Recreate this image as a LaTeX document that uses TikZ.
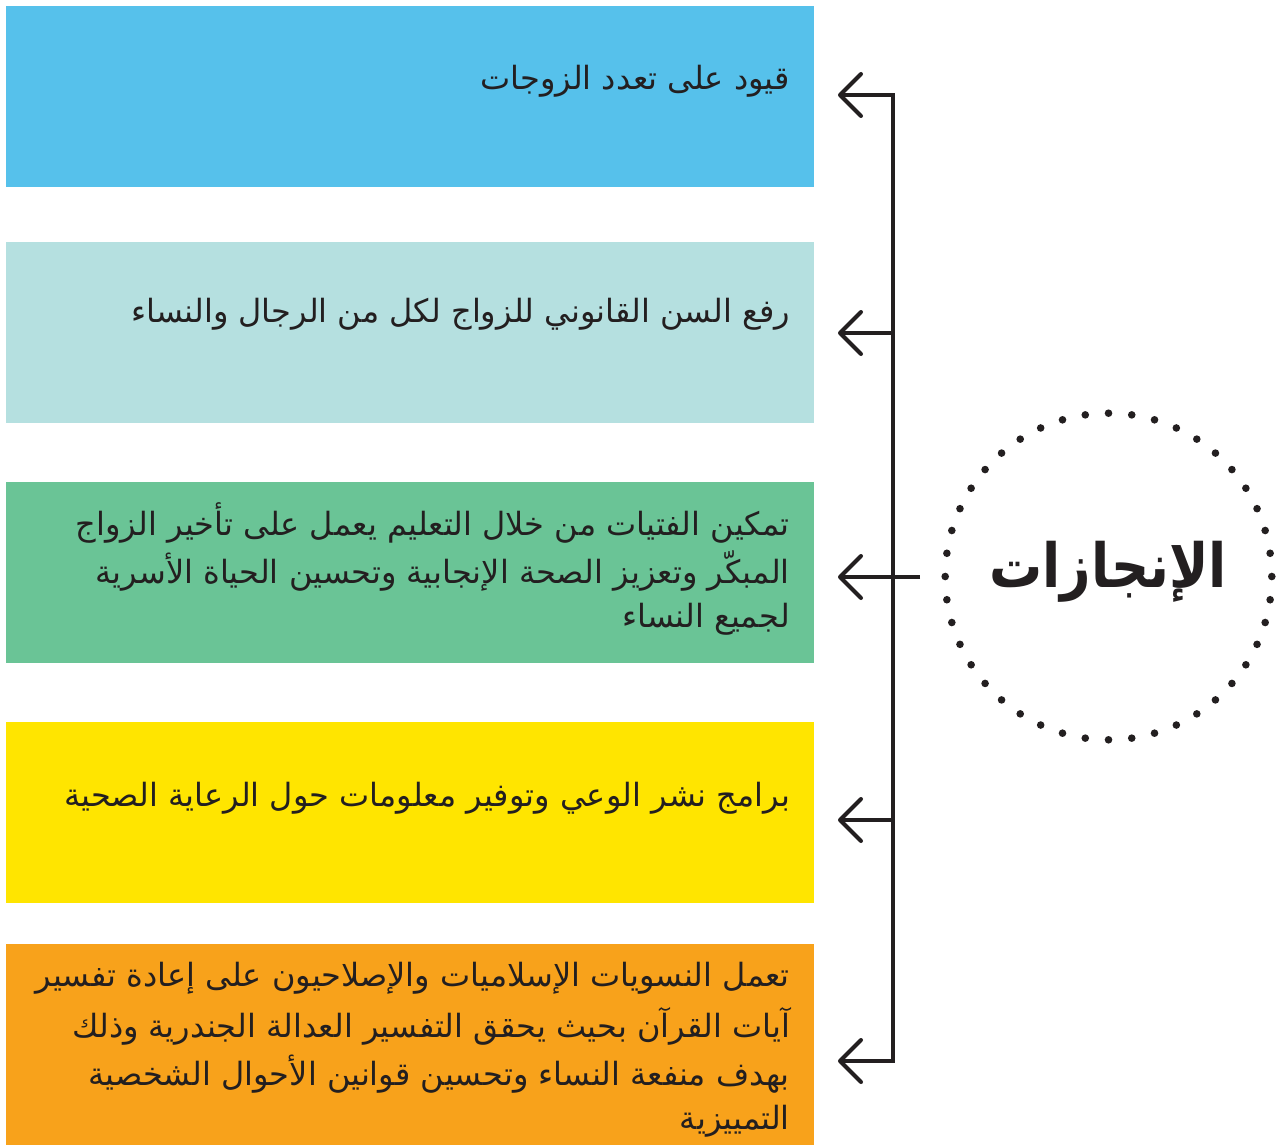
\documentclass[tikz,border=0pt]{standalone}
\usepackage{fontspec}
\TeXXeTstate=1
\newfontfamily\arabicfont[Script=Arabic]{DejaVu Sans}
\definecolor{txt}{HTML}{231F20}
\definecolor{cblue}{HTML}{56C1EB}
\definecolor{cteal}{HTML}{B5E0E0}
\definecolor{cgreen}{HTML}{6AC496}
\definecolor{cyellow}{HTML}{FFE500}
\definecolor{corange}{HTML}{F8A21B}
\begin{document}
\begin{tikzpicture}[x=1pt,y=-1pt,
  panel/.style={draw=none,inner sep=0pt,minimum width=808pt,anchor=north west},
  linetext/.style={anchor=east,inner sep=0pt,text=txt,font=\arabicfont\fontsize{32}{48}\selectfont},
  conn/.style={draw=txt,line width=3.8pt,line join=miter},
  chev/.style={draw=txt,line width=4pt,line cap=round,line join=round}
]
\useasboundingbox (0,0) rectangle (1279,1145);
% panels
\node[panel,fill=cblue,minimum height=181pt] (p1) at (6,6) {};
\node[panel,fill=cteal,minimum height=181pt] (p2) at (6,242) {};
\node[panel,fill=cgreen,minimum height=181pt] (p3) at (6,482) {};
\node[panel,fill=cyellow,minimum height=181pt] (p4) at (6,722) {};
\node[panel,fill=corange,minimum height=201pt] (p5) at (6,944) {};
% texts
\node[linetext] (t1) at (790,81) {\beginR قيود على تعدد الزوجات\endR};
\node[linetext] (t2) at (790,314) {\beginR رفع السن القانوني للزواج لكل من الرجال والنساء\endR};
\node[linetext] (t3a) at (790,523) {\beginR تمكين الفتيات من خلال التعليم يعمل على تأخير الزواج\endR};
\node[linetext] (t3b) at (790,571) {\beginR المبكّر وتعزيز الصحة الإنجابية وتحسين الحياة الأسرية\endR};
\node[linetext] (t3c) at (790,619) {\beginR لجميع النساء\endR};
\node[linetext] (t4) at (790,798) {\beginR برامج نشر الوعي وتوفير معلومات حول الرعاية الصحية\endR};
\node[linetext] (t5a) at (790,978) {\beginR تعمل النسويات الإسلاميات والإصلاحيون على إعادة تفسير\endR};
\node[linetext] (t5b) at (790,1026) {\beginR آيات القرآن بحيث يحقق التفسير العدالة الجندرية وذلك\endR};
\node[linetext] (t5c) at (790,1074) {\beginR بهدف منفعة النساء وتحسين قوانين الأحوال الشخصية\endR};
\node[linetext] (t5d) at (790,1121) {\beginR التمييزية\endR};
% circle
\coordinate (c) at (1108.5,576.5);
\foreach \i in {0,...,43} \fill[txt] (c) ++(\i*360/44:163.3) circle (3.8);
\node[inner sep=0pt,text=txt,font=\arabicfont\bfseries\fontsize{53}{60}\selectfont,yscale=1.15] (title) at (1108,572) {\beginR الإنجازات\endR};
% connectors
\coordinate (top) at (893,95);
\coordinate (bot) at (893,1061);
\coordinate (m2) at (893,333);
\coordinate (m4) at (893,820);
\coordinate (m3) at (920,577);
\coordinate (e1) at (840,95);
\coordinate (e2) at (840,333);
\coordinate (e3) at (840,577);
\coordinate (e4) at (840,820);
\coordinate (e5) at (840,1061);
\draw[conn] (e1) -- (top) -- (bot) -- (e5);
\draw[conn] (m2) -- (e2);
\draw[conn] (m3) -- (e3);
\draw[conn] (m4) -- (e4);
\foreach \e in {e1,e2,e3,e4,e5}
  \draw[chev] ([shift={(21,-21)}]\e) -- (\e) -- ([shift={(21,21)}]\e);
\end{tikzpicture}
\end{document}
